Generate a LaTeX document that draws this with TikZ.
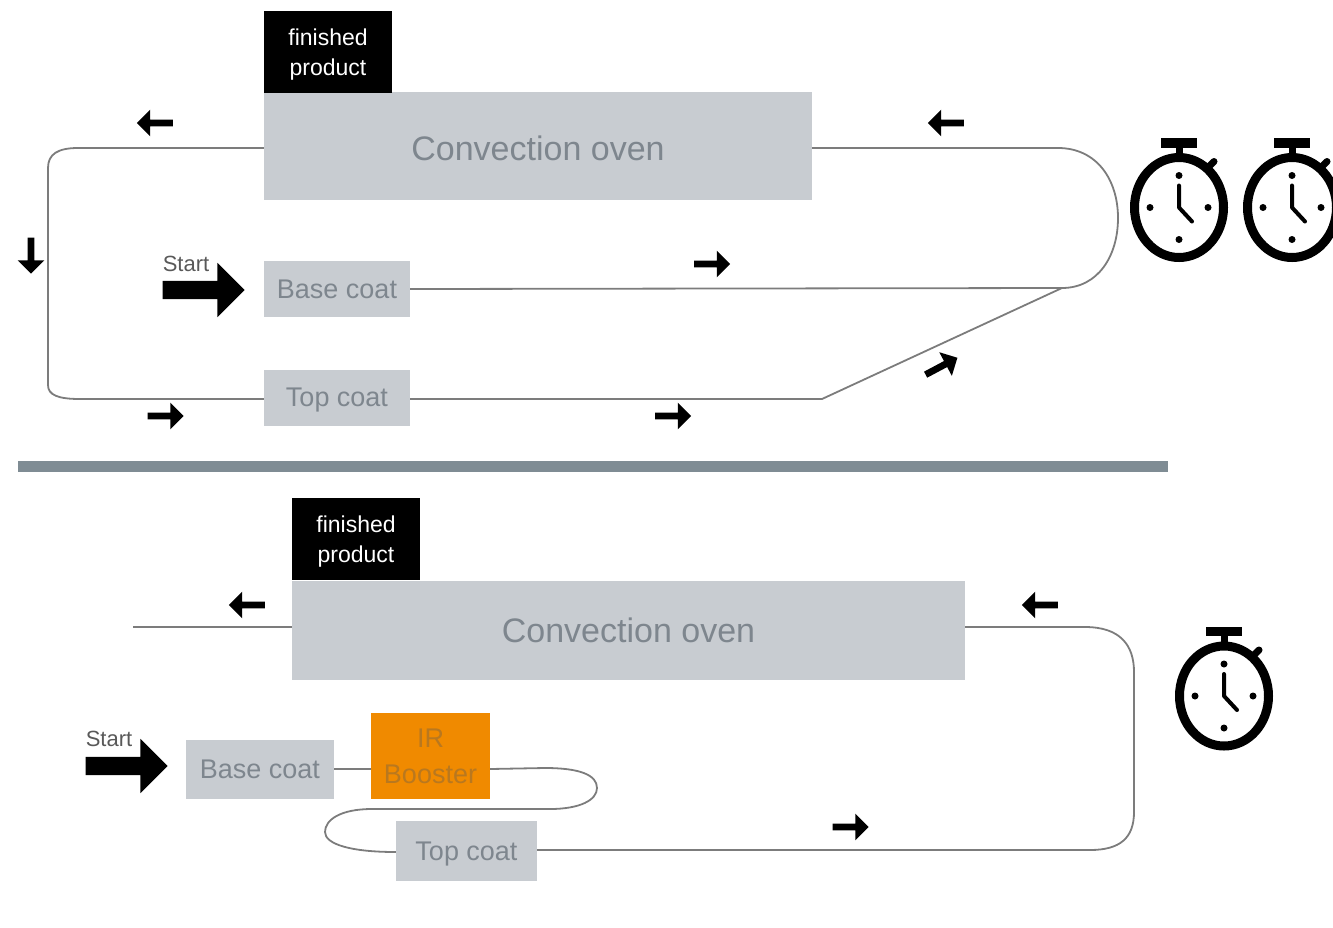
\documentclass[tikz,border=0pt]{standalone}
\usepackage{fontspec}
\setmainfont{Liberation Sans}
\usetikzlibrary{shapes.arrows}
\definecolor{boxgray}{HTML}{C8CCD1}
\definecolor{labelgray}{HTML}{7E868E}
\definecolor{linegray}{HTML}{7C7C7C}
\definecolor{barslate}{HTML}{7F8C94}
\definecolor{boosterorange}{HTML}{F08A00}
\definecolor{boostertext}{HTML}{B9781F}
\begin{document}
\begin{tikzpicture}
			[
			x = {(1pt, 0pt)},
			y = {(0pt, -1pt)},
			ovenbox/.style = {fill = boxgray, text = labelgray, inner sep = 0pt, font = \fontsize{34}{38}\selectfont},
			coatbox/.style = {fill = boxgray, text = labelgray, inner sep = 0pt, font = \fontsize{27}{30}\selectfont},
			boosterbox/.style = {fill = boosterorange, text = boostertext, inner sep = 0pt, align = center, font = \fontsize{27}{36}\selectfont},
			productbox/.style = {fill = black, text = white, inner sep = 0pt, align = center, text height = 46pt, text depth = 0pt, font = \fontsize{23}{30}\selectfont},
			startlabel/.style = {text = black!65, inner sep = 0pt, font = \fontsize{22}{24}\selectfont},
			flowline/.style = {color = linegray, line width = 1.8pt},
			flowarrow/.style = {single arrow, fill = black, inner xsep = 0pt, inner ysep = 3.2pt, minimum width = 26pt, minimum height = 36pt, single arrow head extend = 10pt, anchor = center},
			startarrow/.style = {single arrow, fill = black, inner xsep = 0pt, inner ysep = 9pt, minimum width = 54pt, minimum height = 82pt, single arrow head extend = 18pt, anchor = center},
			stopwatch/.pic = {
				\draw[line width = 9pt] (0,0) ellipse [x radius = 44.5, y radius = 50];
				\fill (-18,-69.5) rectangle (18,-60);
				\draw[line width = 7pt] (0,-60) -- (0,-50);
				\draw[line width = 7pt, line cap = round] (29,-40) -- (35,-46);
				\draw[line width = 4pt, line cap = round, line join = round] (0,-22) -- (0,0) -- (13,14);
				\fill (0,-32) circle (3.5);
				\fill (0,32) circle (3.5);
				\fill (-29,0) circle (3.5);
				\fill (29,0) circle (3.5);
			}]
			
			\useasboundingbox (0,0) rectangle (1333,927);
			
			%% Drawing the upper line
			
			\node[ovenbox, minimum width = 548pt, minimum height = 108pt, text height = 29pt] (ovenA) at (538,146) {Convection oven};
			\node[productbox, minimum width = 128pt, minimum height = 82pt] (productA) at (328,52) {finished\\product};
			\node[coatbox, minimum width = 146pt, minimum height = 56pt] (baseA) at (337,289) {Base coat};
			\node[coatbox, minimum width = 146pt, minimum height = 56pt, text height = 23.5pt] (topA) at (337,398) {Top coat};
			
			\coordinate (bendA) at (1062,288);
			\coordinate (kneeA) at (822,399);
			
			\draw[flowline] (ovenA.west |- 0,148) -- (78,148) .. controls (58,148) and (48,154) .. (48,168) -- (48,385) .. controls (48,395) and (58,399) .. (80,399) -- (topA.west |- 0,399);
			\draw[flowline] (baseA.east) -- (bendA) .. controls (1098,288) and (1118,256) .. (1118,218) .. controls (1118,180) and (1097,148) .. (1058,148) -- (ovenA.east |- 0,148);
			\draw[flowline] (topA.east |- 0,399) -- (kneeA) -- (bendA);
			
			\node[flowarrow, rotate = 180] (leftA) at (156.5,123) {};
			\node[flowarrow, rotate = 180] (leftB) at (947.5,123) {};
			\node[flowarrow, rotate = 270] (downA) at (31,254) {};
			\node[flowarrow] (rightA) at (710.5,264) {};
			\node[flowarrow] (rightB) at (164,416) {};
			\node[flowarrow] (rightC) at (671.5,416) {};
			\node[flowarrow, rotate = 28] (riseA) at (940,367) {};
			
			\node[startlabel] (startA) at (186,264) {Start};
			\node[startarrow] (startarrowA) at (199,290) {};
			
			\pic at (1179,207.5) {stopwatch};
			\pic at (1292,207.5) {stopwatch};
			
			%% Separator
			
			\fill[barslate] (18,461) rectangle (1168,472);
			
			%% Drawing the lower line
			
			\node[ovenbox, minimum width = 673pt, minimum height = 99pt] (ovenB) at (628.5,630.5) {Convection oven};
			\node[productbox, minimum width = 128pt, minimum height = 82pt] (productB) at (356,539) {finished\\product};
			\node[coatbox, minimum width = 148pt, minimum height = 59pt] (baseB) at (260,769) {Base coat};
			\node[boosterbox, minimum width = 119pt, minimum height = 86pt] (boosterB) at (430.5,756) {IR\\Booster};
			\node[coatbox, minimum width = 141pt, minimum height = 60pt, text height = 25pt] (topB) at (466.5,851) {Top coat};
			
			\coordinate (tailB) at (133,627);
			
			\draw[flowline] (ovenB.west |- 0,627) -- (tailB);
			\draw[flowline] (ovenB.east |- 0,627) -- (1085,627) .. controls (1120,627) and (1134,645) .. (1134,672) -- (1134,812) .. controls (1134,838) and (1120,850) .. (1090,850) -- (topB.east |- 0,850);
			\draw[flowline] (baseB.east) -- (boosterB.west |- 0,769);
			\draw[flowline] (boosterB.east |- 0,769) -- (545,768) .. controls (580,768) and (597,775) .. (597,788) .. controls (597,800) and (580,809) .. (550,809) -- (372,809) .. controls (340,809) and (325,820) .. (325,832) .. controls (325,844) and (350,852) .. (topB.west |- 0,852);
			
			\node[flowarrow, rotate = 180] (leftC) at (248.5,605) {};
			\node[flowarrow, rotate = 180] (leftD) at (1041.5,605) {};
			\node[flowarrow] (rightD) at (849,827) {};
			
			\node[startlabel] (startB) at (109,739) {Start};
			\node[startarrow] (startarrowB) at (122,766) {};
			
			\pic at (1224,696) {stopwatch};
		\end{tikzpicture}
\end{document}
